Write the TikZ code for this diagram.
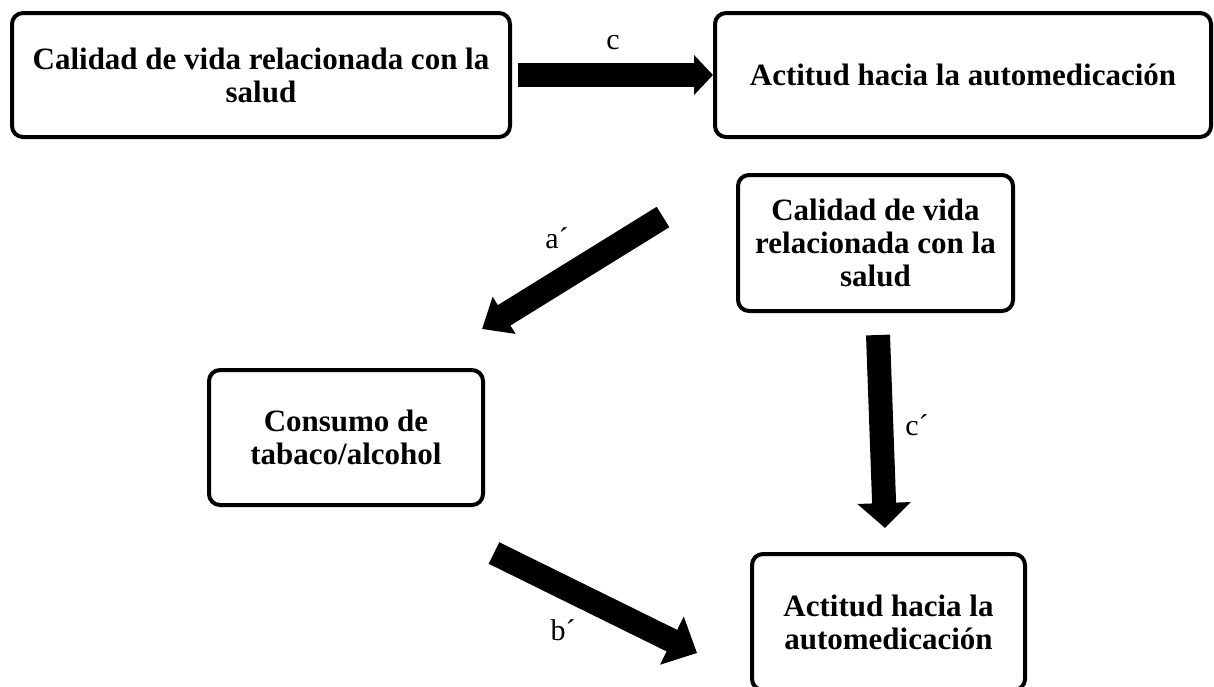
\documentclass[tikz,border=0pt]{standalone}
\usepackage{fontspec}
\setmainfont{Liberation Serif}
\usetikzlibrary{arrows.meta}

\tikzset{
	box/.style={draw, line width=4pt, rounded corners=11pt, align=center, inner sep=0pt,
		font=\fontsize{31}{33}\selectfont\bfseries},
	fat/.style 2 args={line width=24pt, -{Triangle[width=#1, length=#2]}},
	lbl/.style={font=\fontsize{30}{33}\selectfont}
}

\begin{document}
\begin{tikzpicture}[x=1pt, y=-1pt]

	\useasboundingbox (0,0) rectangle (1214,686);
	\clip (0,0) rectangle (1214,686);

	% top row
	\node (calTop) at (261,75)[box, minimum width=498pt, minimum height=124pt] {Calidad de vida relacionada con la\\salud};
	\node (actTop) at (963,75)[box, minimum width=496pt, minimum height=124pt] {Actitud hacia la automedicación};

	% mediation
	\node (calMid) at (875.5,243)[box, minimum width=275pt, minimum height=136pt] {Calidad de vida\\relacionada con la\\salud};
	\node (consumo) at (346,437.5)[box, minimum width=274pt, minimum height=135pt] {Consumo de\\tabaco/alcohol};
	\node (actBot) at (888.5,622)[box, minimum width=273pt, minimum height=136pt] {Actitud hacia la\\automedicación};

	\coordinate (aS) at (663,217);
	\coordinate (aE) at (482,329);
	\coordinate (bS) at (494,553);
	\coordinate (bE) at (697,653);
	\coordinate (cS) at (878,335);
	\coordinate (cE) at (885,528);

	\draw [fat={39pt}{19pt}, shorten <=6pt] (calTop.east) -- (actTop.west);
	\draw [fat={42pt}{26pt}] (aS) -- (aE);
	\draw [fat={52pt}{28pt}] (bS) -- (bE);
	\draw [fat={52pt}{25pt}] (cS) -- (cE);

	\node (lblC) at (613,43)[lbl] {c};
	\node (lblA) at (557,238)[lbl] {a´};
	\node (lblB) at (563,630)[lbl] {b´};
	\node (lblCc) at (917,425)[lbl] {c´};

\end{tikzpicture}
\end{document}
